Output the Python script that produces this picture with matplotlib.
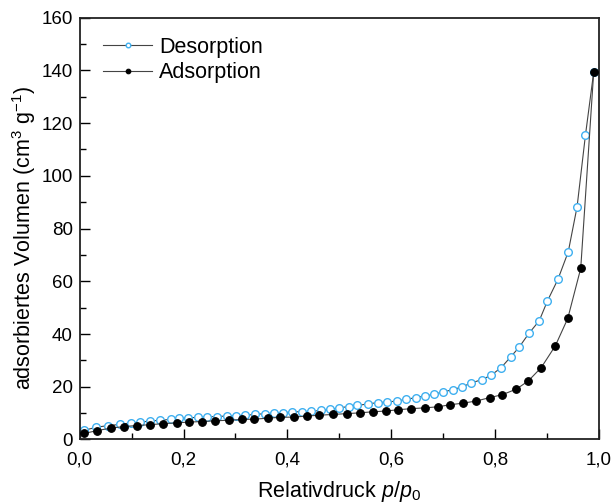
import matplotlib
matplotlib.use("Agg")
import matplotlib.pyplot as plt
from matplotlib.ticker import MultipleLocator, FuncFormatter

plt.rcParams['font.family'] = ['Liberation Sans', 'DejaVu Sans']
plt.rcParams['mathtext.fontset'] = 'custom'
plt.rcParams['mathtext.rm'] = 'Liberation Sans'
plt.rcParams['mathtext.it'] = 'Liberation Sans:italic'

# Adsorption branch
ads_p = [0.009, 0.034, 0.060, 0.085, 0.110, 0.135, 0.160, 0.187, 0.210, 0.236,
         0.261, 0.288, 0.313, 0.336, 0.363, 0.386, 0.413, 0.438, 0.461, 0.488,
         0.514, 0.539, 0.564, 0.590, 0.614, 0.639, 0.665, 0.690, 0.714, 0.739,
         0.764, 0.790, 0.814, 0.841, 0.864, 0.889, 0.916, 0.940, 0.965, 0.990]
ads_v = [2.3, 3.4, 4.3, 4.9, 5.3, 5.6, 6.0, 6.3, 6.6, 6.8,
         7.1, 7.3, 7.6, 7.7, 8.1, 8.4, 8.5, 8.9, 9.2, 9.5,
         9.8, 10.1, 10.5, 10.8, 11.3, 11.7, 12.0, 12.4, 13.2, 13.8,
         14.6, 15.9, 17.0, 19.1, 22.2, 27.3, 35.5, 45.9, 64.9, 139.4]

# Desorption branch
des_p = [0.009, 0.031, 0.055, 0.078, 0.098, 0.117, 0.136, 0.155, 0.175, 0.192,
         0.209, 0.227, 0.246, 0.264, 0.283, 0.301, 0.319, 0.338, 0.356, 0.374,
         0.391, 0.409, 0.428, 0.445, 0.465, 0.483, 0.500, 0.518, 0.535, 0.555,
         0.575, 0.592, 0.611, 0.629, 0.647, 0.665, 0.682, 0.699, 0.719, 0.737,
         0.754, 0.774, 0.792, 0.812, 0.830, 0.846, 0.865, 0.885, 0.901, 0.921,
         0.941, 0.958, 0.974, 0.990]
des_v = [3.5, 4.6, 5.3, 5.7, 6.3, 6.6, 7.0, 7.3, 7.6, 8.0,
         8.2, 8.4, 8.6, 8.7, 8.9, 9.0, 9.2, 9.5, 9.8, 10.0,
         10.2, 10.4, 10.6, 10.7, 11.0, 11.5, 12.0, 12.5, 12.9, 13.5,
         14.0, 14.2, 14.6, 15.2, 15.9, 16.5, 17.1, 18.0, 18.9, 20.0,
         21.4, 22.7, 24.3, 27.3, 31.3, 34.9, 40.2, 45.0, 52.6, 60.7,
         71.2, 88.3, 115.3, 139.4]

fig = plt.figure(figsize=(6.13, 5.04), dpi=100)
ax = fig.add_axes([0.130, 0.128, 0.847, 0.837])

line_col = '#444444'
ax.plot(des_p, des_v, '-', color=line_col, lw=0.8, marker='o', ms=5.5,
        mfc='white', mec='#3fb0f0', mew=1.0, label='Desorption', zorder=2)
ax.plot(ads_p, ads_v, '-', color=line_col, lw=0.8, marker='o', ms=5.5,
        mfc='black', mec='black', mew=0.8, label='Adsorption', zorder=3)

ax.set_xlim(0, 1.0)
ax.set_ylim(0, 160)
ax.xaxis.set_major_locator(MultipleLocator(0.2))
ax.xaxis.set_minor_locator(MultipleLocator(0.1))
ax.yaxis.set_major_locator(MultipleLocator(20))
ax.yaxis.set_minor_locator(MultipleLocator(10))
ax.xaxis.set_major_formatter(FuncFormatter(lambda v, p: f"{v:.1f}".replace('.', ',')))
ax.tick_params(which='both', direction='in', top=False, right=False,
               labelsize=13.5, width=1.0)
ax.tick_params(axis='x', which='both', pad=9)
ax.tick_params(axis='y', which='both', pad=5)
ax.tick_params(which='major', length=7)
ax.tick_params(which='minor', length=4)
for s in ax.spines.values():
    s.set_linewidth(1.3)
    s.set_color('#222222')

ax.set_xlabel(r'Relativdruck $p/p_0$', fontsize=15.5, labelpad=7)
ax.set_ylabel(r'adsorbiertes Volumen (cm$^3$ g$^{-1}$)', fontsize=15.5)
ax.yaxis.set_label_coords(-0.08, 0.478)

leg = ax.legend(loc='upper left', frameon=False, fontsize=15.5, markerscale=0.6,
                handlelength=2.3, handletextpad=0.3, labelspacing=0.2,
                borderaxespad=0.0, bbox_to_anchor=(0.028, 0.975))

fig.savefig('out.png', dpi=100)
